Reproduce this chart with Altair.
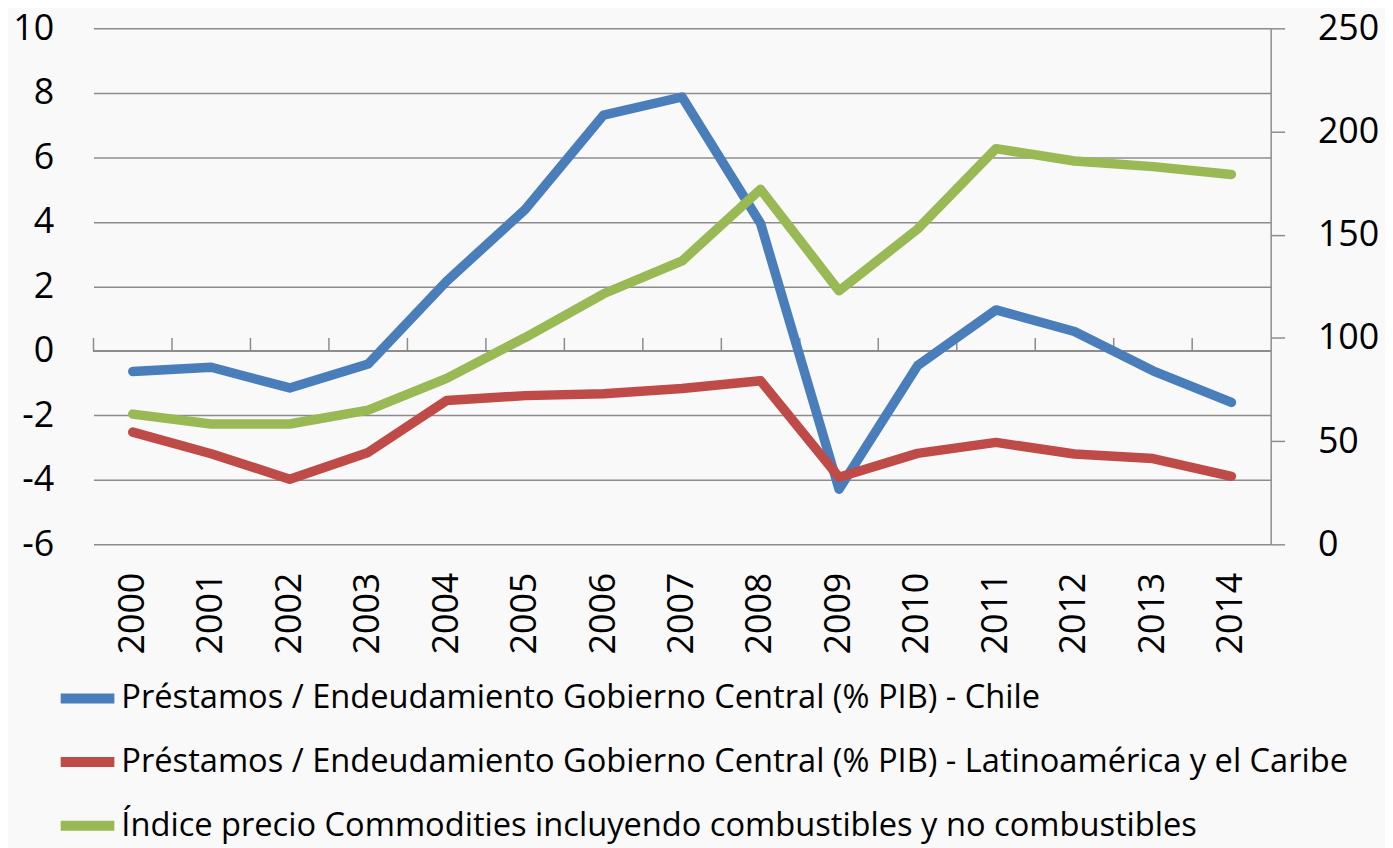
import altair as alt
import pandas as pd

years = [str(y) for y in range(2000, 2015)]
chile = [-0.64, -0.51, -1.15, -0.41, 2.16, 4.38, 7.31, 7.87, 3.95, -4.29, -0.46, 1.27, 0.6, -0.62, -1.6]
latam = [-2.52, -3.19, -3.98, -3.15, -1.54, -1.39, -1.33, -1.17, -0.93, -3.92, -3.18, -2.84, -3.2, -3.34, -3.89]
commod = [63.1, 58.3, 58.3, 65.0, 80.4, 100.2, 121.4, 137.3, 172.0, 122.8, 152.7, 191.7, 185.7, 183.0, 179.2]
series_names = [
    "Préstamos / Endeudamiento Gobierno Central (% PIB) - Chile",
    "Préstamos / Endeudamiento Gobierno Central (% PIB) - Latinoamérica y el Caribe",
    "Índice precio Commodities incluyendo combustibles y no combustibles",
]
colors = ["#4A7EBB", "#BE4B48", "#98B954"]
left_ticks = [-6, -4, -2, 0, 2, 4, 6, 8, 10]
right_ticks = [0, 50, 100, 150, 200, 250]

rows = []
for name, vals in zip(series_names, [chile, latam, commod]):
    for y, v in zip(years, vals):
        rows.append({"year": y, "series": name, "value": v})
df = pd.DataFrame(rows)
left_df = df[df.series != series_names[2]]
right_df = df[df.series == series_names[2]]
ticks_df = pd.DataFrame({"year": years, "zero": [0] * len(years), "tk": [0.4] * len(years)})

FONT = "Open Sans"
GRID = "#8c8c8c"


def xenc(bp):
    return alt.X(
        "year:N", sort=years, bandPosition=bp,
        scale=alt.Scale(type="band", paddingInner=0, paddingOuter=0),
        axis=alt.Axis(title=None, labelAngle=270, labelFontSize=36, labelPadding=28,
                      domain=False, ticks=False, grid=False, labelColor="black",
                      labelFont=FONT),
    )


yleft_axis = alt.Axis(values=left_ticks, title=None, grid=True, gridColor=GRID, gridWidth=1.5,
                      domain=False, ticks=False, labelFontSize=36, labelPadding=40,
                      labelColor="black", labelFont=FONT, labelExpr="datum.value + ''")
yleft_scale = alt.Scale(domain=[-6, 10], nice=False, zero=False)

color = alt.Color(
    "series:N",
    scale=alt.Scale(domain=series_names, range=colors),
    legend=alt.Legend(orient="none", legendX=-38, legendY=642, direction="vertical",
                      title=None, symbolType="stroke", symbolStrokeWidth=10,
                      symbolSize=2916, labelFontSize=32.8, labelFont=FONT,
                      labelColor="black", labelLimit=0, rowPadding=12, labelOffset=2),
)

line_kw = dict(strokeWidth=9.5, strokeCap="round", strokeJoin="round")

left_lines = alt.Chart(left_df).mark_line(**line_kw).encode(
    x=xenc(0.5),
    y=alt.Y("value:Q", scale=yleft_scale, axis=yleft_axis),
    color=color,
    order=alt.Order("year:N"),
)

axis_line = alt.Chart(ticks_df).mark_rule(color=GRID, strokeWidth=1.5).encode(
    y=alt.Y("zero:Q", scale=yleft_scale, axis=yleft_axis),
)

tick_marks = alt.Chart(ticks_df).mark_rule(color=GRID, strokeWidth=1.5).encode(
    x=xenc(0),
    y=alt.Y("zero:Q", scale=yleft_scale, axis=yleft_axis),
    y2="tk:Q",
)

left_layer = alt.layer(axis_line, tick_marks, left_lines)

right_line = alt.Chart(right_df).mark_line(**line_kw).encode(
    x=xenc(0.5),
    y=alt.Y("value:Q", scale=alt.Scale(domain=[0, 250], nice=False),
            axis=alt.Axis(orient="right", values=right_ticks, title=None, grid=False,
                          domain=True, domainColor=GRID, domainWidth=1.5,
                          ticks=True, tickSize=14, tickColor=GRID, tickWidth=1.5,
                          labelFontSize=36, labelPadding=33, labelColor="black",
                          labelFont=FONT)),
    color=color,
    order=alt.Order("year:N"),
)

chart = alt.layer(left_layer, right_line).resolve_scale(y="independent").properties(
    width=1184, height=519,
    autosize=alt.AutoSizeParams(type="none"),
    padding={"left": 86, "top": 18, "right": 115, "bottom": 303},
    background="#f9f9f9",
).configure_view(stroke=None)

chart.save("out.html", embed_options={"renderer": "svg", "actions": False})
